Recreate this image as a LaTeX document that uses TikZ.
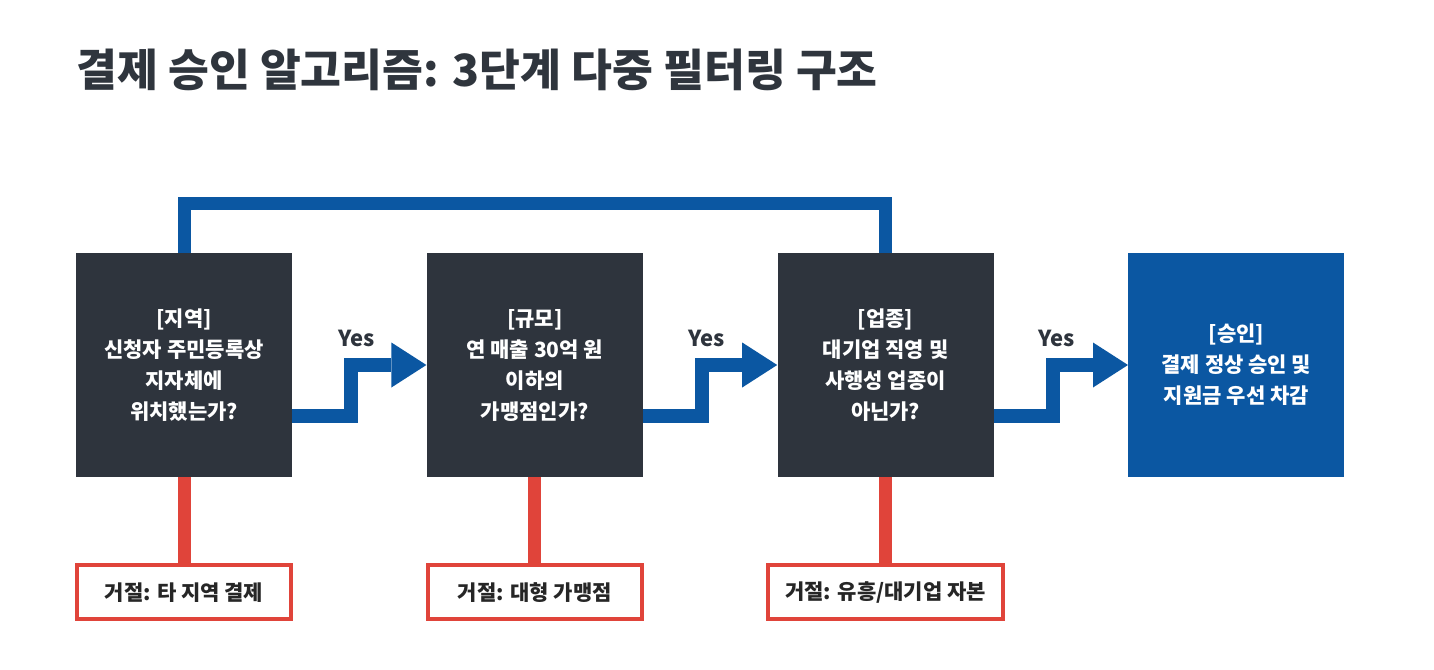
\documentclass[tikz,border=0pt]{standalone}
\usepackage{fontspec}
\setmainfont{Noto Sans CJK KR}
\usetikzlibrary{arrows.meta, positioning, calc}
\definecolor{boxdark}{HTML}{2E343D}
\definecolor{okblue}{HTML}{0B57A2}
\definecolor{rejred}{HTML}{E0443A}
\definecolor{titlegray}{HTML}{2F353D}

\begin{document}
\begin{tikzpicture}[x=0.5pt, y=-0.5pt,
        check/.style={fill=boxdark, text=white, minimum width=108pt, minimum height=112pt,
            align=center, inner sep=0pt, font=\bfseries\fontsize{10.5pt}{15.5pt}\selectfont},
        pass/.style={check, fill=okblue},
        reject/.style={draw=rejred, line width=2pt, fill=white, minimum width=107pt,
            minimum height=27pt, inner xsep=8.5pt, text=black!85,
            font=\bfseries\fontsize{10.5pt}{12pt}\selectfont},
        yesline/.style={draw=okblue, line width=7pt,
            -{Triangle[length=17.5pt, width=22.5pt, line width=0pt]}},
        loopline/.style={draw=okblue, line width=6.5pt},
        noline/.style={draw=rejred, line width=6.5pt},
        yeslbl/.style={text=boxdark, font=\bfseries\fontsize{11pt}{13pt}\selectfont},
        node distance=67pt]
                    \path [use as bounding box, fill=white] (0, 0) rectangle (1434, 669);

                    \node [anchor=west, inner sep=0pt, text=titlegray, font=\bfseries\fontsize{22.2pt}{25pt}\selectfont] (Ttl) at (76, 70) {결제 승인 알고리즘: 3단계 다중 필터링 구조};

                    \node [check] (Qr) at (184, 365) {[지역]\\신청자 주민등록상\\지자체에\\위치했는가?};
                    \node [check, right=of Qr] (Qs) {[규모]\\연 매출 30억 원\\이하의\\가맹점인가?};
                    \node [check, right=of Qs] (Qb) {[업종]\\대기업 직영 및\\사행성 업종이\\아닌가?};
                    \node [pass, right=of Qb] (Ok) {[승인]\\결제 정상 승인 및\\지원금 우선 차감};

                    \node [reject, below=43pt of Qr] (Rr) {거절: 타 지역 결제};
                    \node [reject, below=43pt of Qs] (Rs) {거절: 대형 가맹점};
                    \node [reject, below=43pt of Qb] (Rb) {거절: 유흥/대기업 자본};

                    \coordinate (Lp) at (535, 203);
                    \draw [loopline] (Qr.north) |- (Lp) -| (Qb.north);

                    \draw [yesline] ([yshift=-25.5pt]Qr.east) -- ++(29.5pt, 0) |- (Qs.west);
                    \draw [yesline] ([yshift=-25.5pt]Qs.east) -- ++(29.5pt, 0) |- (Qb.west);
                    \draw [yesline] ([yshift=-25.5pt]Qb.east) -- ++(29.5pt, 0) |- (Ok.west);

                    \node [yeslbl] (Y1) at (357, 338) {Yes};
                    \node [yeslbl] (Y2) at (707, 338) {Yes};
                    \node [yeslbl] (Y3) at (1057, 338) {Yes};

                    \draw [noline] (Qr.south) -- (Rr.north);
                    \draw [noline] (Qs.south) -- (Rs.north);
                    \draw [noline] (Qb.south) -- (Rb.north);
            \end{tikzpicture}
\end{document}
